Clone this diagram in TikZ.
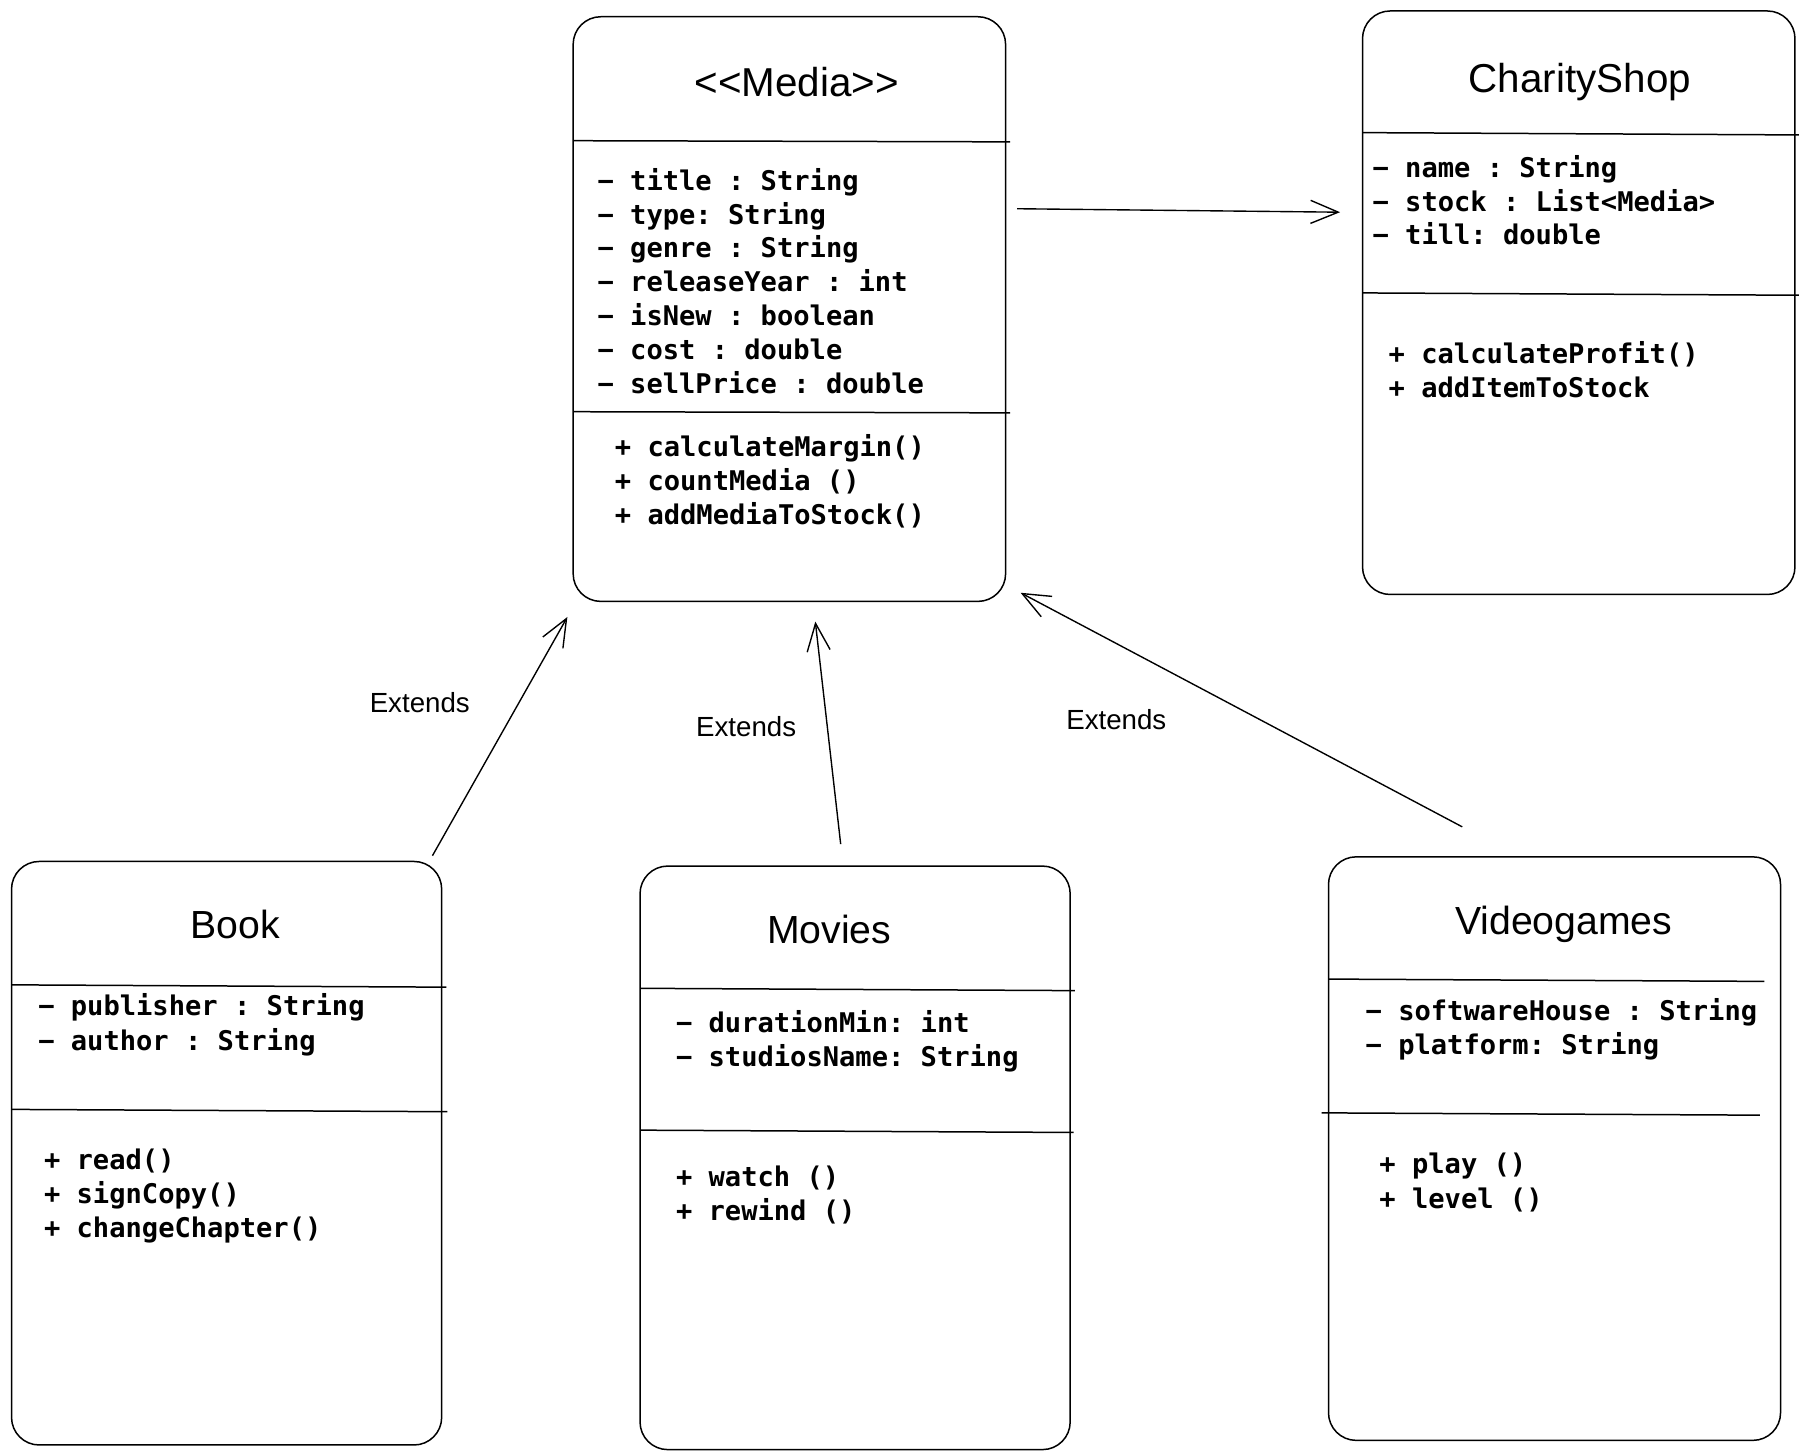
\documentclass[tikz,border=0pt]{standalone}
\usepackage{fontspec}
\setmainfont{Liberation Sans}
\setmonofont{DejaVu Sans Mono}
\usepackage{tikz}
\usetikzlibrary{arrows.meta}

\begin{document}
\begin{tikzpicture}[x=1pt,y=-1pt,
        classbox/.style={draw,line width=1.3pt,rounded corners=24pt,inner sep=0pt,
                minimum width=375pt,minimum height=507pt},
        classname/.style={anchor=base,inner sep=0pt,font=\fontsize{35}{40}\selectfont},
        member/.style={anchor=base west,inner sep=0pt,font=\ttfamily\bfseries\fontsize{23.5}{29}\selectfont},
        sep/.style={line width=1.3pt},
        link/.style={line width=1.2pt,-{Straight Barb[length=24pt,width=20pt,line width=1.2pt]}},
        lbl/.style={inner sep=0pt,font=\fontsize{24}{28}\selectfont}]
        \useasboundingbox (0,0) rectangle (1560,1259);

        % <<Media>>
        \node[classbox] (media) at (684.5,268) {};
        \node[classname] (media-name) at (691,84) {{<}{<}Media{>}{>}};
        \draw[sep] (497,122) -- (876,123);
        \draw[sep] (497,357) -- (876,358);
        \foreach \m [count=\i] in {− title : String,− type: String,− genre : String,
                − releaseYear : int,− isNew : boolean,− cost : double,− sellPrice : double}
        \node[member] (media-a\i) at (518,{165+29.3*(\i-1)}) {\m};
        \foreach \m [count=\i] in {+ calculateMargin(),+ countMedia (),+ addMediaToStock()}
        \node[member] (media-m\i) at (533,{396+29.5*(\i-1)}) {\m};

        % CharityShop
        \node[classbox,minimum height=506pt] (shop) at (1369,262.5) {};
        \node[classname] (shop-name) at (1370,80) {CharityShop};
        \draw[sep] (1182,115) -- (1560,117);
        \draw[sep] (1182,254) -- (1560,256);
        \foreach \m [count=\i] in {− name : String,− stock : List<Media>,− till: double}
        \node[member] (shop-a\i) at (1190,{154+29.2*(\i-1)}) {\m};
        \foreach \m [count=\i] in {+ calculateProfit(),+ addItemToStock}
        \node[member] (shop-m\i) at (1204,{315+29.5*(\i-1)}) {\m};

        % Book
        \node[classbox,minimum width=373pt,minimum height=506pt] (book) at (196.5,1000) {};
        \node[classname,font=\fontsize{34}{40}\selectfont] (book-name) at (204,814) {Book};
        \draw[sep] (10,854) -- (387,856);
        \draw[sep] (10,962) -- (388,964);
        \foreach \m [count=\i] in {− publisher : String,− author : String}
        \node[member] (book-a\i) at (33,{881+29.5*(\i-1)}) {\m};
        \foreach \m [count=\i] in {+ read(),+ signCopy(),+ changeChapter()}
        \node[member] (book-m\i) at (38,{1014+29.5*(\i-1)}) {\m};

        % Movies
        \node[classbox,minimum width=373pt,minimum height=506pt] (movies) at (741.5,1004) {};
        \node[classname,font=\fontsize{34}{40}\selectfont] (movies-name) at (719,818) {Movies};
        \draw[sep] (555,857) -- (932,859);
        \draw[sep] (555,980) -- (931,982);
        \foreach \m [count=\i] in {− durationMin: int,− studiosName: String}
        \node[member] (movies-a\i) at (586,{895+29.5*(\i-1)}) {\m};
        \foreach \m [count=\i] in {+ watch (),+ rewind ()}
        \node[member] (movies-m\i) at (586,{1029+29.5*(\i-1)}) {\m};

        % Videogames
        \node[classbox,minimum width=392pt,minimum height=506pt] (games) at (1348,996) {};
        \node[classname,font=\fontsize{34}{40}\selectfont] (games-name) at (1356,810) {Videogames};
        \draw[sep] (1152,849) -- (1530,851);
        \draw[sep] (1146,965) -- (1526,967);
        \foreach \m [count=\i] in {− softwareHouse : String,− platform: String}
        \node[member] (games-a\i) at (1184,{885+29.5*(\i-1)}) {\m};
        \foreach \m [count=\i] in {+ play (),+ level ()}
        \node[member] (games-m\i) at (1196,{1018+29.5*(\i-1)}) {\m};

        % connectors
        \coordinate (media-out) at (882,181);
        \coordinate (shop-in) at (1162,184);
        \coordinate (book-out) at (375,742);
        \coordinate (media-in1) at (492,535);
        \coordinate (movies-out) at (729,732);
        \coordinate (media-in2) at (707,539);
        \coordinate (games-out) at (1268,717);
        \coordinate (media-in3) at (885,514);
        \draw[link] (media-out) -- (shop-in);
        \draw[link] (book-out) -- (media-in1);
        \draw[link] (movies-out) -- (media-in2);
        \draw[link] (games-out) -- (media-in3);
        \node[lbl] (ext-book) at (364,609) {Extends};
        \node[lbl] (ext-movies) at (647,630) {Extends};
        \node[lbl] (ext-games) at (968,624) {Extends};
\end{tikzpicture}
\end{document}
